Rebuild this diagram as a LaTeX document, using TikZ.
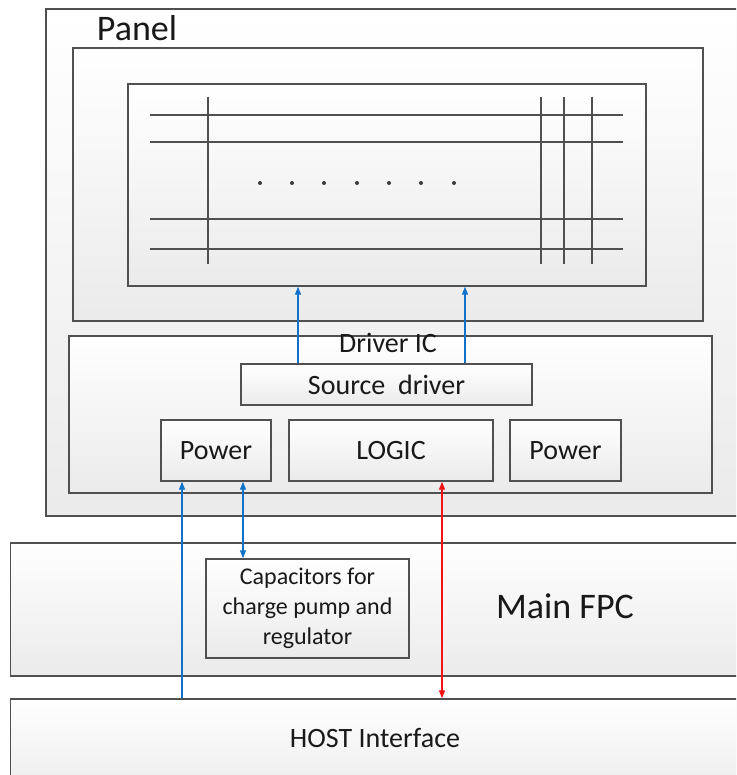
\documentclass[tikz,border=0pt]{standalone}
\usepackage{fontspec}
\setmainfont{Carlito}
\usetikzlibrary{arrows.meta,shadows}

\definecolor{edge}{RGB}{80,80,80}
\definecolor{ink}{RGB}{25,25,25}
\definecolor{sigblue}{RGB}{16,114,200}
\definecolor{sigred}{RGB}{240,20,20}

\tikzset{
  blk/.style={draw=edge, line width=1.4pt, rectangle, inner sep=0pt,
    top color=white, bottom color=black!8, text=ink,
    drop shadow={shadow xshift=1.2pt, shadow yshift=-1.2pt, fill=black!35, opacity=0.35}},
  bodytxt/.style={font=\fontsize{28}{34}\selectfont, text=ink},
  bigtxt/.style={font=\fontsize{36}{42}\selectfont, text=ink},
  gridline/.style={draw=edge, line width=1.5pt},
  tip/.style={-{Triangle[length=8pt,width=6pt]}},
  bluewire/.style={draw=sigblue, line width=1.3pt},
  redwire/.style={draw=sigred, line width=1.3pt},
}

\begin{document}
\begin{tikzpicture}[x=1pt,y=-1pt]
\useasboundingbox (0,0) rectangle (736,775);
\clip (0,0) rectangle (736,775);
\fill[white] (0,0) rectangle (736,775);

% panel and its screen
\node[blk, minimum width=714pt, minimum height=507pt] (panel) at (403,262.5) {};
\node[bigtxt] (paneltitle) at (137,28) {Panel};
\node[blk, minimum width=630pt, minimum height=273pt] (screen) at (388,184.5) {};
\node[blk, minimum width=518pt, minimum height=202pt] (matrix) at (387,185) {};

% row and column lines of the matrix
\foreach \yy in {115,142,219,249}
  \draw[gridline] (150,\yy) -- (623,\yy);
\foreach \xx in {208,541,564,592}
  \draw[gridline] (\xx,97) -- (\xx,264);
\foreach \xx in {260,292,324,357,389,421,454}
  \fill[ink!85] (\xx,183) circle (2pt);

% driver IC
\node[blk, minimum width=643pt, minimum height=157pt] (driver) at (390.5,414.5) {};
\node[bodytxt, anchor=base] (drivertitle) at (388,352) {Driver IC};
\node[blk, bodytxt, minimum width=291pt, minimum height=41pt] (source) at (386.5,384.5) {Source\ \ driver};
\node[blk, bodytxt, minimum width=110pt, minimum height=61pt] (powerL) at (216,450.5) {Power};
\node[blk, bodytxt, minimum width=204pt, minimum height=61pt] (logic) at (391,450.5) {LOGIC};
\node[blk, bodytxt, minimum width=111pt, minimum height=61pt] (powerR) at (565.5,450.5) {Power};

% main FPC
\node[blk, minimum width=750pt, minimum height=133pt] (fpc) at (385.5,609.5) {};
\node[bigtxt] (fpctitle) at (565,606) {Main FPC};
\node[blk, minimum width=203pt, minimum height=99pt, align=center,
      font=\fontsize{24}{30}\selectfont] (caps) at (307.5,608.5)
      {Capacitors for\\charge pump and\\regulator};

% host interface
\node[blk, minimum width=750pt, minimum height=101pt] (host) at (385.5,749.5) {};
\node[bodytxt] (hosttitle) at (375,738) {HOST Interface};

% signal connectors
\coordinate (cA) at (298,0);
\coordinate (cB) at (465,0);
\coordinate (cC) at (182,0);
\coordinate (cD) at (243,0);
\coordinate (cE) at (442,0);

\draw[bluewire, tip] (source.north -| cA) -- (matrix.south -| cA);
\draw[bluewire, tip] (source.north -| cB) -- (matrix.south -| cB);
\draw[bluewire, tip] (host.north -| cC) -- (powerL.south -| cC);
\draw[bluewire, {Triangle[length=8pt,width=6pt]}-{Triangle[length=8pt,width=6pt]}]
  (powerL.south -| cD) -- (caps.north -| cD);
\draw[redwire, {Triangle[length=8pt,width=6pt]}-{Triangle[length=8pt,width=6pt]}]
  (logic.south -| cE) -- (host.north -| cE);
\end{tikzpicture}
\end{document}
